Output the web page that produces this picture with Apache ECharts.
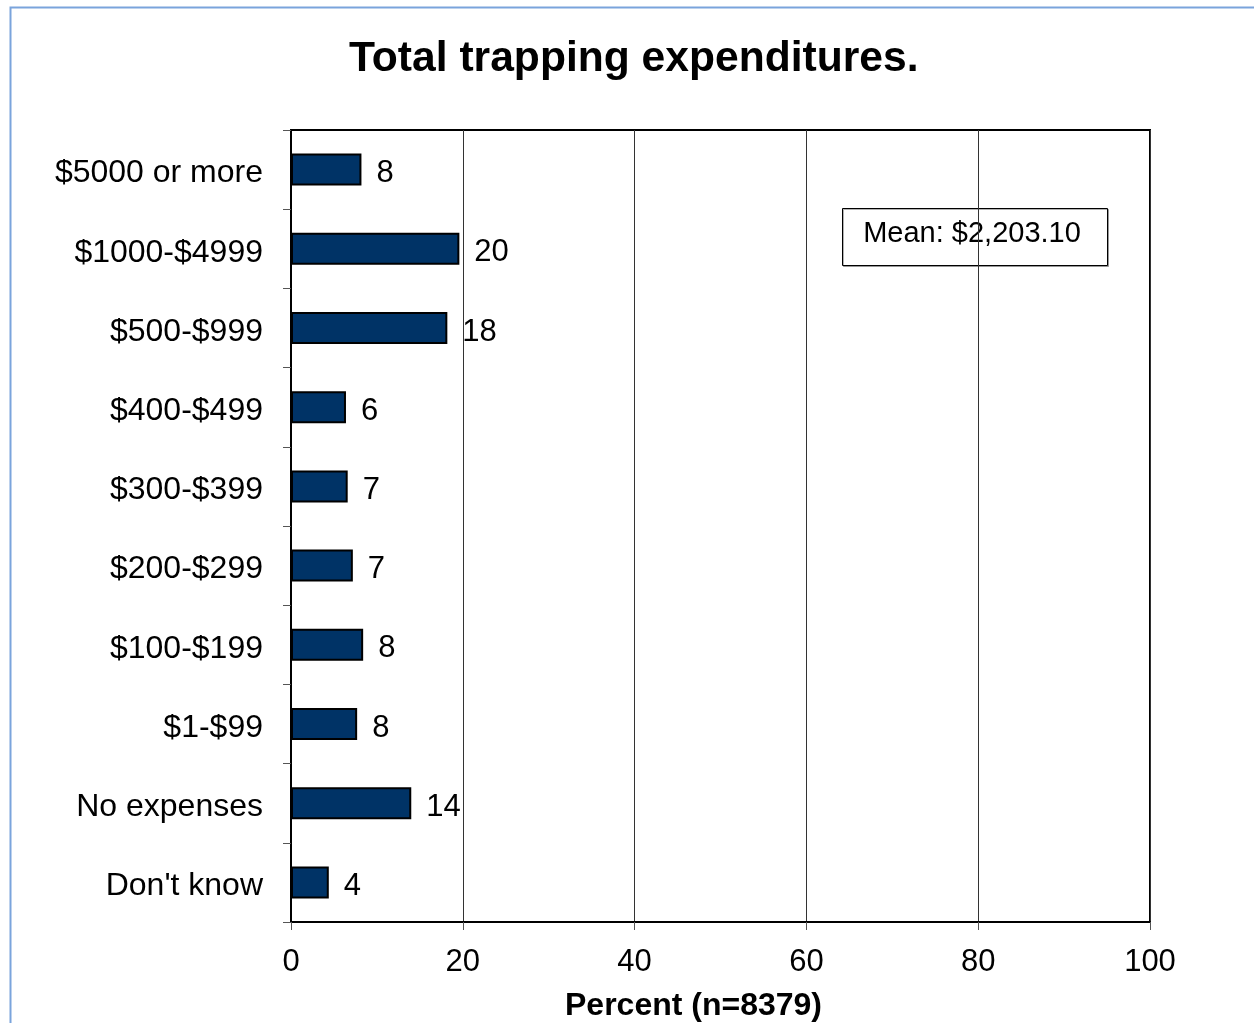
<!DOCTYPE html>
<html>
<head>
<meta charset="utf-8">
<title>Total trapping expenditures</title>
<script src="https://cdn.jsdelivr.net/npm/echarts@6/dist/echarts.min.js"></script>
<style>
  html, body { margin: 0; padding: 0; background: #ffffff; }
  #chart { width: 1254px; height: 1023px; }
</style>
</head>
<body>
<div id="chart"></div>
<script>
// Spending brackets, listed top to bottom
const categories = [
  '$5000 or more', '$1000-$4999', '$500-$999', '$400-$499', '$300-$399',
  '$200-$299', '$100-$199', '$1-$99', 'No expenses', "Don't know"
];
// Share of respondents in each bracket (percent)
const percents = [8.2, 19.6, 18.2, 6.4, 6.6, 7.2, 8.4, 7.7, 14.0, 4.4];
const xTicks = [0, 20, 40, 60, 80, 100];
const chartTitle = 'Total trapping expenditures.';
const axisTitle = 'Percent (n=8379)';
const meanText = 'Mean: $2,203.10';

const FONT = '"Liberation Sans", Arial, sans-serif';
const chart = echarts.init(document.getElementById('chart'), null, { renderer: 'canvas' });

chart.setOption({
  backgroundColor: '#ffffff',
  animation: false,
  title: {
    text: chartTitle,
    left: 344,
    top: 33,
    textStyle: { fontFamily: FONT, fontSize: 42.6, fontWeight: 'bold', color: '#000' }
  },
  grid: {
    left: 291, right: 104, top: 130, bottom: 101,
    outerBoundsMode: 'none',
    show: true, borderColor: '#000', borderWidth: 2, backgroundColor: 'transparent'
  },
  xAxis: {
    type: 'value',
    min: xTicks[0],
    max: xTicks[xTicks.length - 1],
    interval: xTicks[1] - xTicks[0],
    name: axisTitle,
    nameLocation: 'middle',
    nameGap: 68,
    nameTextStyle: {
      fontFamily: FONT, fontSize: 32, fontWeight: 'bold', color: '#000',
      padding: [0, 54, 0, 0]
    },
    axisLine: { show: true, lineStyle: { color: '#000', width: 2 } },
    axisTick: { show: true, length: 8, lineStyle: { color: '#555', width: 1 } },
    axisLabel: { margin: 25, fontFamily: FONT, fontSize: 31, color: '#000' },
    splitLine: { show: true, lineStyle: { color: '#333', width: 1 } }
  },
  yAxis: {
    type: 'category',
    data: categories,
    inverse: true,
    boundaryGap: true,
    axisLine: { show: true, lineStyle: { color: '#000', width: 2 } },
    axisTick: { show: true, length: 8, lineStyle: { color: '#555', width: 1 } },
    axisLabel: {
      margin: 28, fontFamily: FONT, fontSize: 32, color: '#000',
      formatter: v => '{c|' + v + '}',
      rich: {
        c: { fontFamily: FONT, fontSize: 32, color: '#000', padding: [8, 0, 0, 0] }
      }
    },
    splitLine: { show: false }
  },
  series: [{
    type: 'bar',
    data: percents,
    barWidth: 32,
    itemStyle: { color: '#003366', borderColor: '#000', borderWidth: 2 },
    label: {
      show: true,
      position: 'right',
      distance: 15,
      offset: [0, 4],
      fontFamily: FONT,
      fontSize: 31,
      color: '#000',
      formatter: p => String(Math.round(p.value))
    }
  }],
  graphic: [
    {
      // outer frame of the figure panel
      type: 'rect',
      shape: { x: 10.5, y: 7.5, width: 1300, height: 1100 },
      style: { fill: 'none', stroke: '#7aa4dc', lineWidth: 2 },
      silent: true
    },
    {
      type: 'group',
      left: 842,
      top: 208,
      children: [
        {
          type: 'rect',
          shape: { x: 0.5, y: 0.5, width: 265, height: 57 },
          style: {
            fill: '#fff', stroke: '#000', lineWidth: 1,
            shadowColor: 'rgba(0,0,0,0.3)', shadowOffsetX: 1, shadowOffsetY: 1, shadowBlur: 0
          }
        },
        {
          type: 'text',
          x: 130,
          y: 26,
          style: {
            text: meanText,
            fontFamily: FONT,
            fontSize: 29,
            fill: '#000',
            align: 'center',
            verticalAlign: 'middle'
          }
        }
      ]
    }
  ]
});
</script>
</body>
</html>
